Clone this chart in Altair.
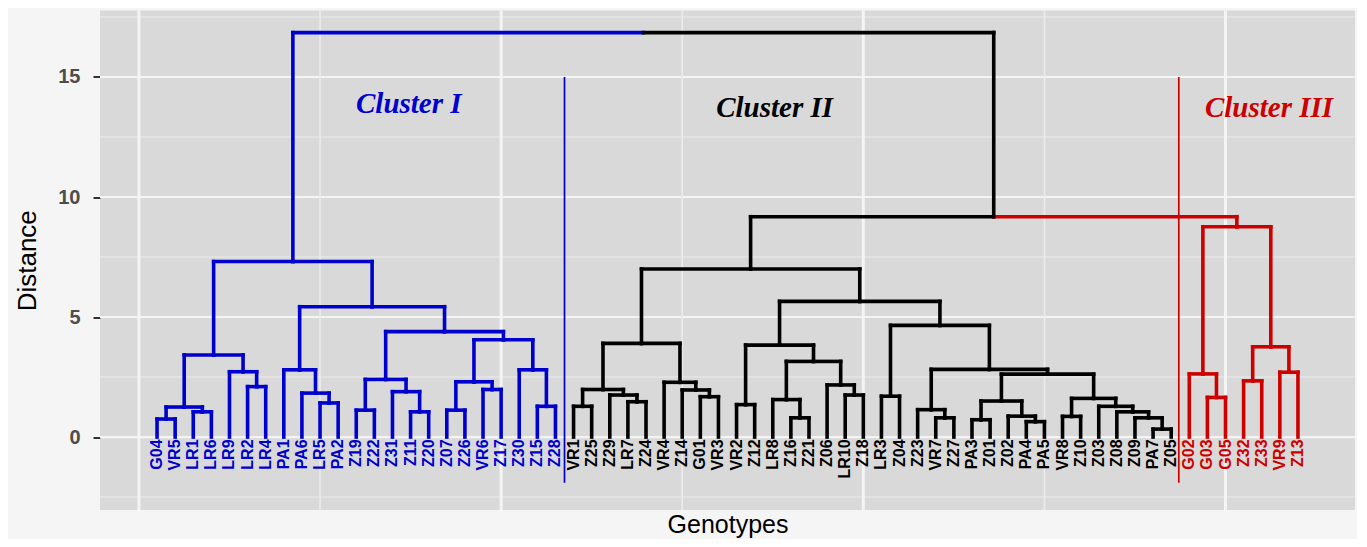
import altair as alt
import pandas as pd

# ---------------- data ----------------
cluster_I = ["G04", "VR5", "LR1", "LR6", "LR9", "LR2", "LR4", "PA1", "PA6", "LR5", "PA2",
             "Z19", "Z22", "Z31", "Z11", "Z20", "Z07", "Z26", "VR6", "Z17", "Z30", "Z15", "Z28"]
cluster_II = ["VR1", "Z25", "Z29", "LR7", "Z24", "VR4", "Z14", "G01", "VR3", "VR2", "Z12",
              "LR8", "Z16", "Z21", "Z06", "LR10", "Z18", "LR3", "Z04", "Z23", "VR7", "Z27",
              "PA3", "Z01", "Z02", "PA4", "PA5", "VR8", "Z10", "Z03", "Z08", "Z09", "PA7", "Z05"]
cluster_III = ["G02", "G03", "G05", "Z32", "Z33", "VR9", "Z13"]

# merges: (node id, left child, right child, height)
merges = [
    ("m1", "G04", "VR5", 0.75), ("m2", "LR1", "LR6", 1.05), ("m3", "m1", "m2", 1.25),
    ("m4", "LR2", "LR4", 2.10), ("m5", "LR9", "m4", 2.72), ("m6", "m3", "m5", 3.42),
    ("m7", "LR5", "PA2", 1.42), ("m8", "PA6", "m7", 1.83), ("m9", "PA1", "m8", 2.80),
    ("m10", "Z19", "Z22", 1.12), ("m11", "Z11", "Z20", 1.05), ("m12", "Z31", "m11", 1.89),
    ("m13", "m10", "m12", 2.40), ("m14", "Z07", "Z26", 1.12), ("m15", "VR6", "Z17", 1.98),
    ("m16", "m14", "m15", 2.30), ("m17", "Z15", "Z28", 1.28), ("m18", "Z30", "m17", 2.80),
    ("m19", "m16", "m18", 4.05), ("m20", "m13", "m19", 4.39), ("m21", "m9", "m20", 5.43),
    ("m22", "m6", "m21", 7.31),
    ("n1", "VR1", "Z25", 1.28), ("n2", "LR7", "Z24", 1.47), ("n3", "Z29", "n2", 1.75),
    ("n4", "n1", "n3", 1.98), ("n5", "G01", "VR3", 1.68), ("n6", "Z14", "n5", 1.96),
    ("n7", "VR4", "n6", 2.28), ("n8", "n4", "n7", 3.90), ("n9", "VR2", "Z12", 1.35),
    ("n10", "Z16", "Z21", 0.80), ("n11", "LR8", "n10", 1.56), ("n12", "LR10", "Z18", 1.75),
    ("n13", "Z06", "n12", 2.17), ("n14", "n11", "n13", 3.15), ("n15", "n9", "n14", 3.83),
    ("n16", "LR3", "Z04", 1.70), ("n17", "VR7", "Z27", 0.80), ("n18", "Z23", "n17", 1.14),
    ("n19", "PA3", "Z01", 0.72), ("n20", "PA4", "PA5", 0.64), ("n21", "Z02", "n20", 0.87),
    ("n22", "n19", "n21", 1.50), ("n23", "VR8", "Z10", 0.86), ("n24", "PA7", "Z05", 0.33),
    ("n25", "Z09", "n24", 0.80), ("n26", "Z08", "n25", 1.05), ("n27", "Z03", "n26", 1.28),
    ("n28", "n23", "n27", 1.61), ("n29", "n22", "n28", 2.62), ("n30", "n18", "n29", 2.82),
    ("n31", "n16", "n30", 4.65), ("n32", "n15", "n31", 5.65), ("n33", "n8", "n32", 7.00),
    ("p1", "G03", "G05", 1.65), ("p2", "G02", "p1", 2.63), ("p3", "Z32", "Z33", 2.34),
    ("p4", "VR9", "Z13", 2.70), ("p5", "p3", "p4", 3.76), ("p6", "p2", "p5", 8.76),
    ("q1", "n33", "p6", 9.18), ("root", "m22", "q1", 16.85),
]

cluster_names = ["Cluster I", "Cluster II", "Cluster III", "above"]
cluster_colors = ["#0000CD", "#000000", "#CD0000", "#000000"]

separator_x = [23.5, 57.42]
separator_group = ["Cluster I", "Cluster III"]
separator_y = [-1.9, 15.0]

label_text = ["Cluster I", "Cluster II", "Cluster III"]
label_x = [14.9, 35.1, 62.4]
label_y = [13.5, 13.35, 13.35]

y_major = [0, 5, 10, 15]
y_minor = [-2.5, 2.5, 7.5, 12.5, 17.5]
x_major = [0, 20, 40, 60]
x_minor = [10, 30, 50]

# ---------------- build dendrogram segments ----------------
leaves = cluster_I + cluster_II + cluster_III
group_of = {}
for name in cluster_I:
    group_of[name] = "Cluster I"
for name in cluster_II:
    group_of[name] = "Cluster II"
for name in cluster_III:
    group_of[name] = "Cluster III"
pos = {name: i + 1 for i, name in enumerate(leaves)}
hgt = {name: 0.0 for name in leaves}
groups = {name: {group_of[name]} for name in leaves}

rows = []
for nid, a, b, h in merges:
    pos[nid] = (pos[a] + pos[b]) / 2.0
    hgt[nid] = h
    groups[nid] = groups[a] | groups[b]
    group_of[nid] = next(iter(groups[nid])) if len(groups[nid]) == 1 else "above"
    for c in (a, b):
        rows.append({"x": pos[nid], "x2": pos[c], "y": h, "y2": h, "g": group_of[c]})
        rows.append({"x": pos[c], "x2": pos[c], "y": h, "y2": hgt[c], "g": group_of[c]})
seg_df = pd.DataFrame(rows)

leaf_df = pd.DataFrame({
    "x": [pos[n] for n in leaves],
    "y": [-0.1] * len(leaves),
    "label": leaves,
    "g": [group_of[n] for n in leaves],
})

sep_df = pd.DataFrame({"x": separator_x, "y": [separator_y[0]] * 2,
                       "y2": [separator_y[1]] * 2, "g": separator_group})
lab_df = pd.DataFrame({"x": label_x, "y": label_y, "label": label_text,
                       "g": ["Cluster I", "Cluster II", "Cluster III"]})

# ---------------- scales / axes ----------------
n = len(leaves)
span = n - 1
xscale = alt.Scale(domain=[1 - 0.05 * span, n + 0.05 * span], nice=False, zero=False)
yscale = alt.Scale(domain=[-3.04, 17.77], nice=False, zero=False)

xaxis = alt.Axis(title="Genotypes", labels=False, ticks=False, domain=False, grid=False,
                 titleFont="Liberation Sans", titleFontSize=25, titleFontWeight="normal",
                 titleColor="#000000", titleBaseline="alphabetic", titleY=22)
yaxis = alt.Axis(title="Distance", values=y_major, domain=False, grid=False,
                 labelFont="Liberation Sans", labelFontSize=20, labelFontWeight="bold",
                 labelColor="#4d4d4d", labelPadding=13, tickSize=7, tickWidth=2,
                 tickColor="#333333", titleFont="Liberation Sans", titleFontSize=26,
                 titleFontWeight="normal", titleColor="#000000", titleX=-73,
                 titleBaseline="middle")

def X(f):
    return alt.X(f, type="quantitative", scale=xscale, axis=xaxis)

def Y(f):
    return alt.Y(f, type="quantitative", scale=yscale, axis=yaxis)

color = alt.Color("g:N", scale=alt.Scale(domain=cluster_names, range=cluster_colors), legend=None)

hmaj = alt.Chart(pd.DataFrame({"y": y_major})).mark_rule(color="#f4f4f4", strokeWidth=2.2).encode(y=Y("y"))
hmin = alt.Chart(pd.DataFrame({"y": y_minor})).mark_rule(color="#ececec", strokeWidth=1.1).encode(y=Y("y"))
vmaj = alt.Chart(pd.DataFrame({"x": x_major})).mark_rule(color="#f4f4f4", strokeWidth=3).encode(x=X("x"))
vmin = alt.Chart(pd.DataFrame({"x": x_minor})).mark_rule(color="#ececec", strokeWidth=1.6).encode(x=X("x"))

seps = alt.Chart(sep_df).mark_rule(strokeWidth=1.7).encode(
    x=X("x"), y=Y("y"), y2=alt.Y2("y2"), color=color)

segs = alt.Chart(seg_df).mark_rule(strokeWidth=3.6, strokeCap="square").encode(
    x=X("x"), x2=alt.X2("x2"), y=Y("y"), y2=alt.Y2("y2"), color=color)

leaf_text = alt.Chart(leaf_df).mark_text(
    angle=270, align="right", baseline="middle", font="Liberation Sans",
    fontSize=16, fontWeight="bold").encode(x=X("x"), y=Y("y"), text="label:N", color=color)

clus_text = alt.Chart(lab_df).mark_text(
    align="center", baseline="alphabetic", font="Liberation Serif", fontSize=29,
    fontWeight="bold", fontStyle="italic").encode(x=X("x"), y=Y("y"), text="label:N", color=color)

chart = alt.layer(hmin, hmaj, vmin, vmaj, seps, segs, leaf_text, clus_text).properties(
    width=1255, height=499.5,
    autosize=alt.AutoSizeParams(type="none"),
    padding={"left": 92, "top": 2.5, "right": 2, "bottom": 29},
    background="#f5f5f5",
).configure_view(fill="#d9d9d9", stroke=None)

chart.save("out.html", embed_options={"renderer": "svg", "actions": False})
